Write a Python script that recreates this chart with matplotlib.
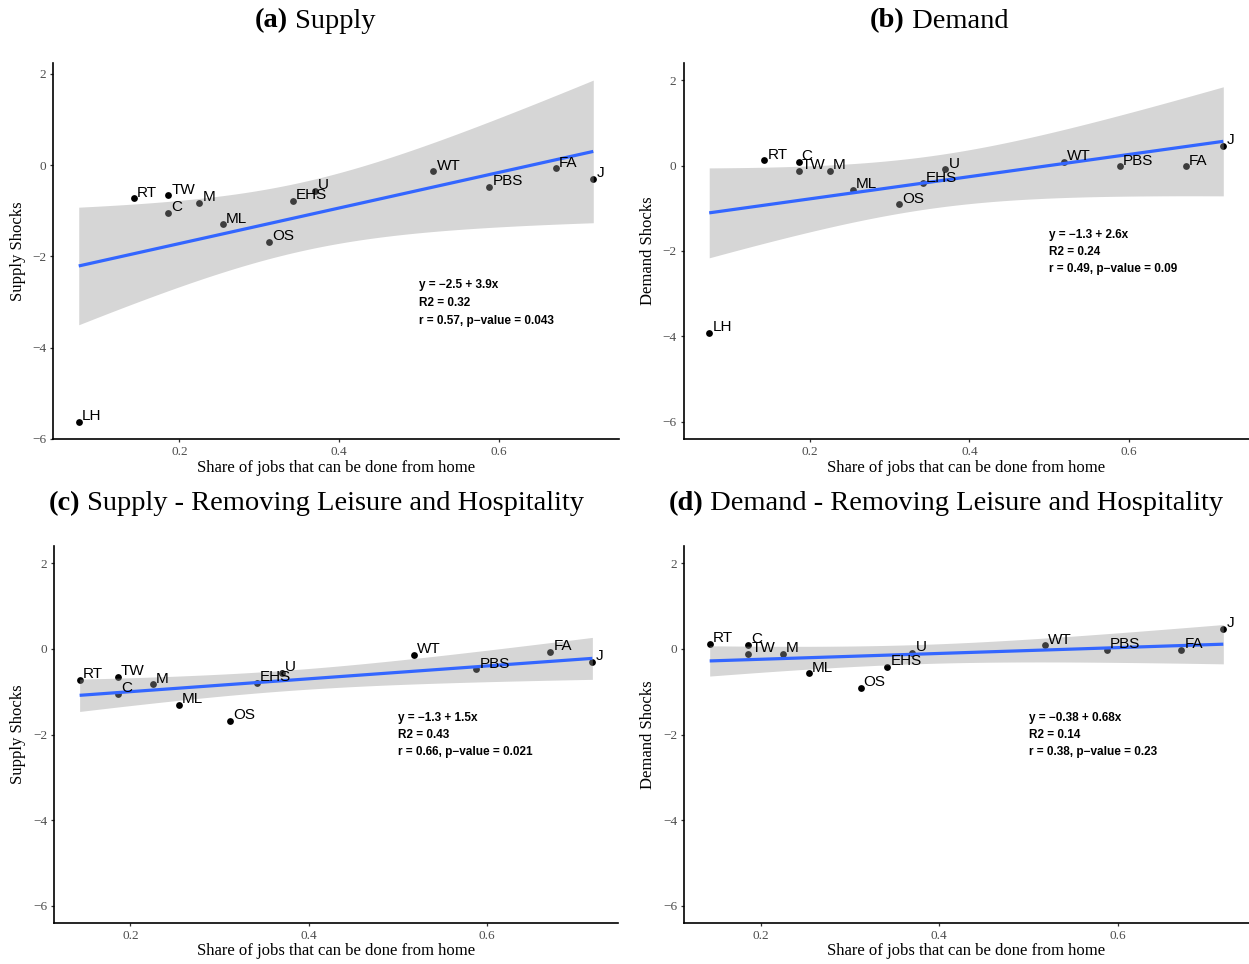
import numpy as np
import matplotlib
matplotlib.use("Agg")
import matplotlib.pyplot as plt

# ---- data -------------------------------------------------------------
sectors = ["LH", "RT", "C", "TW", "M", "ML", "OS", "EHS", "U", "WT", "PBS", "FA", "J"]
wfh_share = [0.074, 0.143, 0.186, 0.186, 0.225, 0.254, 0.312, 0.342, 0.370,
             0.518, 0.588, 0.671, 0.718]
supply_shock = [-5.63, -0.73, -1.05, -0.66, -0.83, -1.30, -1.68, -0.79, -0.56,
                -0.14, -0.48, -0.07, -0.30]
demand_shock = [-3.91, 0.12, 0.09, -0.12, -0.12, -0.57, -0.91, -0.42, -0.09,
                0.08, -0.02, -0.02, 0.46]

# fitted lines (intercept, slope) and reported statistics for panels a-d
fit_intercepts = [-2.5, -1.3, -1.3, -0.38]
fit_slopes = [3.9, 2.6, 1.5, 0.68]
fit_r2 = ["0.32", "0.24", "0.43", "0.14"]
fit_r = ["0.57", "0.49", "0.66", "0.38"]
fit_p = ["0.043", "0.09", "0.021", "0.23"]

panel_tags = ["(a)", "(b)", "(c)", "(d)"]
panel_titles = ["Supply", "Demand",
                "Supply - Removing Leisure and Hospitality",
                "Demand - Removing Leisure and Hospitality"]
panel_ylabels = ["Supply Shocks", "Demand Shocks", "Supply Shocks", "Demand Shocks"]

# 97.5% Student-t quantiles for the 95% confidence band
T975 = {11: 2.200985, 10: 2.228139}

W, H = 1249, 964
SERIF = ["Liberation Serif", "DejaVu Serif"]
SANS = ["Liberation Sans", "DejaVu Sans"]
NARROW = ["Liberation Sans Narrow", "Liberation Sans", "DejaVu Sans"]

fig = plt.figure(figsize=(W / 100, H / 100), dpi=100)


def px_axes(left, top, right, bottom):
    return fig.add_axes([left / W, 1 - bottom / H, (right - left) / W, (bottom - top) / H])


def conf_band(x, y, a, b, tq):
    x = np.asarray(x)
    y = np.asarray(y)
    n = len(x)
    xg = np.linspace(x.min(), x.max(), 80)
    yhat = a + b * xg
    resid = y - (a + b * x)
    s = np.sqrt(np.sum(resid ** 2) / (n - 2))
    sxx = np.sum((x - x.mean()) ** 2)
    se = s * np.sqrt(1.0 / n + (xg - x.mean()) ** 2 / sxx)
    return xg, yhat, yhat - tq * se, yhat + tq * se


def fmt_num(v):
    s = f"{v:g}"
    return s.replace("-", "\u2212")


# axes rectangles in pixels: left, top, right, bottom
rects = [(53, 63, 619, 439), (683.5, 63, 1249, 439),
         (54, 546, 618, 923), (684, 546, 1249, 923)]
title_centers = [(315, 21), (939, 21), (316, 504), (946, 504)]
xlabel_y = [468, 468, 951, 951]
ylabel_x = [18, 648, 18, 648]
annot_y = [[-2.63, -3.02, -3.42], [-1.62, -2.02, -2.42],
           [-1.62, -2.02, -2.42], [-1.62, -2.02, -2.42]]

title_parts = []

for i in range(4):
    drop_lh = i >= 2
    keep = [k for k, s in enumerate(sectors) if not (drop_lh and s == "LH")]
    xs = np.array([wfh_share[k] for k in keep])
    ys_all = supply_shock if i % 2 == 0 else demand_shock
    ys = np.array([ys_all[k] for k in keep])
    labs = [sectors[k] for k in keep]

    ax = px_axes(*rects[i])
    a, b = fit_intercepts[i], fit_slopes[i]
    xg, yhat, lo, hi = conf_band(xs, ys, a, b, T975[len(xs) - 2])

    ax.scatter(xs, ys, s=24, color="black", zorder=2, linewidths=0)
    ax.fill_between(xg, lo, hi, color="#999999", alpha=0.4, linewidth=0, zorder=3)
    ax.plot(xg, yhat, color="#3366FF", lw=2.3, zorder=4, solid_capstyle="butt")
    for xv, yv, lab in zip(xs, ys, labs):
        ax.annotate(lab, (xv, yv), xytext=(2.2, 1.2), textcoords="offset points",
                    ha="left", va="baseline", fontsize=11, family=SANS,
                    color="black", zorder=5)

    # limits: data range plus 5% padding on x; y fixed or padded
    xr = xs.max() - xs.min()
    ax.set_xlim(xs.min() - 0.05 * xr, xs.max() + 0.05 * xr)
    if i == 0:
        ymin = min(ys.min(), lo.min())
        ymax = max(ys.max(), hi.max())
        yr = ymax - ymin
        ax.set_ylim(ymin - 0.05 * yr, ymax + 0.05 * yr)
    else:
        ax.set_ylim(-6.4, 2.4)

    ax.set_xticks([0.2, 0.4, 0.6])
    ax.set_xticklabels(["0.2", "0.4", "0.6"])
    ax.set_yticks([-6, -4, -2, 0, 2])
    ax.set_yticklabels([fmt_num(v) for v in [-6, -4, -2, 0, 2]])
    for sp in ["top", "right"]:
        ax.spines[sp].set_visible(False)
    for sp in ["left", "bottom"]:
        ax.spines[sp].set_linewidth(1.2)
        ax.spines[sp].set_color("black")
    ax.tick_params(length=2.5, width=0.9, color="#333333", labelcolor="#4D4D4D",
                   labelsize=9.5, pad=2.5)
    for t in ax.get_xticklabels() + ax.get_yticklabels():
        t.set_family(SERIF)
    ax.set_facecolor("none")

    # regression statistics
    eq = [f"y = {fmt_num(a)} + {fmt_num(b)}x",
          f"R2 = {fit_r2[i]}",
          f"r = {fit_r[i]}, p\u2212value = {fit_p[i]}"]
    for line, yv in zip(eq, annot_y[i]):
        ax.text(0.5, yv, line, ha="left", va="center", fontsize=8.5,
                fontweight="bold", family=NARROW, zorder=6)

    # axis labels
    l, t_, r, bt = rects[i]
    fig.text(((l + r) / 2) / W, 1 - xlabel_y[i] / H,
             "Share of jobs that can be done from home",
             ha="center", va="center", fontsize=12, family=SERIF)
    fig.text(ylabel_x[i] / W, 1 - ((t_ + bt) / 2) / H, panel_ylabels[i],
             ha="center", va="center", rotation=90, fontsize=12, family=SERIF)

    # title: bold tag followed by regular text, centred as a whole
    tb = fig.text(0, 1 - title_centers[i][1] / H, panel_tags[i], ha="left",
                  va="center", fontsize=20.5, fontweight="bold", family=SERIF)
    tr = fig.text(0, 1 - title_centers[i][1] / H, " " + panel_titles[i], ha="left",
                  va="center", fontsize=20.5, family=SERIF)
    title_parts.append((tb, tr, title_centers[i][0]))

fig.canvas.draw()
renderer = fig.canvas.get_renderer()
for tb, tr, cx in title_parts:
    wb = tb.get_window_extent(renderer).width
    wr = tr.get_window_extent(renderer).width
    x0 = cx - (wb + wr) / 2
    tb.set_x(x0 / W)
    tr.set_x((x0 + wb) / W)

fig.savefig("out.png", dpi=100, facecolor="white")
